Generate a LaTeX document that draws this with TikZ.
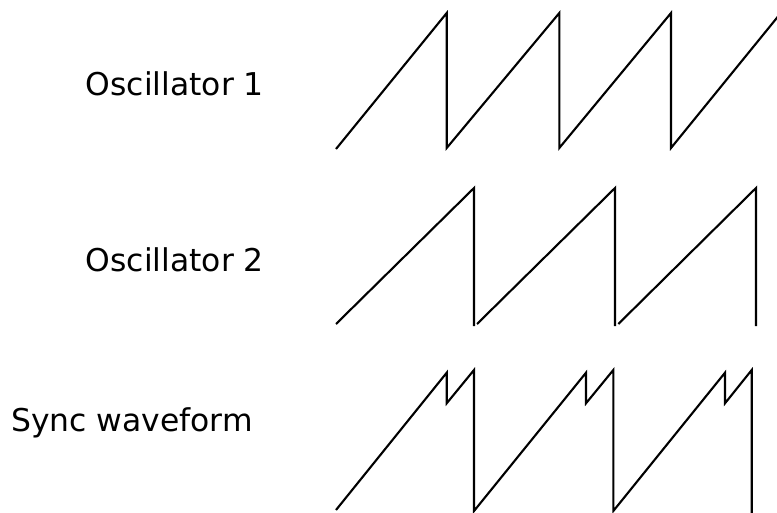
\documentclass[tikz,border=0pt]{standalone}
\usepackage{fontspec}
\setmainfont{DejaVu Sans}
\tikzset{
  wave/.style={line width=2.1pt, line join=miter, line cap=butt, black},
  lbl/.style={anchor=base west, inner sep=0pt, font=\fontsize{31.4}{36}\selectfont}
}
\begin{document}
\begin{tikzpicture}[x=1pt,y=-1pt]
\useasboundingbox (0,0) rectangle (777,512);
\clip (0,0) rectangle (777,512);
% labels
\node[lbl] (osc1) at (85.5,95.5) {Oscillator 1};
\node[lbl] (osc2) at (85.5,271) {Oscillator 2};
\node[lbl] (sync) at (11,431) {Sync waveform};
% Oscillator 1
\draw[wave] (336,149) -- (446.7,13) -- (446.7,148) -- (559.3,13) -- (559.3,148)
  -- (671,13) -- (671,148) -- (778,16.5);
% Oscillator 2
\draw[wave] (336,324) -- (474,188) -- (474,326);
\draw[wave] (477,324) -- (615,188) -- (615,326);
\draw[wave] (618.3,324) -- (756,188) -- (756,326);
% Sync waveform
\draw[wave] (336,510) -- (446.7,372.7) -- (446.7,403.3) -- (474,370) -- (474,511)
  -- (586,372.7) -- (586,403.3) -- (613.3,370) -- (613.3,511)
  -- (725,372.7) -- (725,403.3) -- (751.7,370) -- (751.7,513);
\end{tikzpicture}
\end{document}
